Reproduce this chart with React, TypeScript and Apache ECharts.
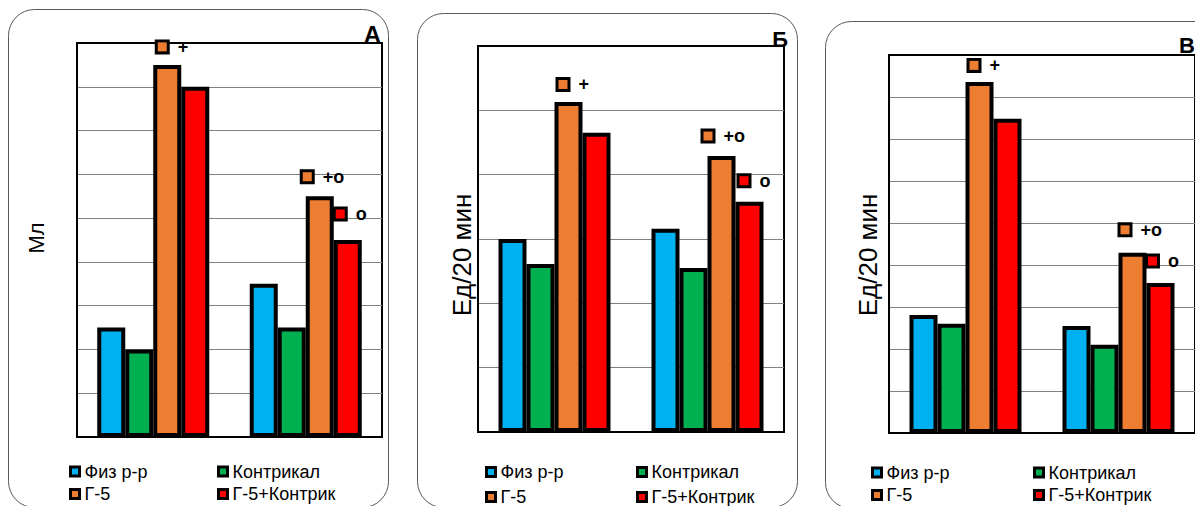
import React, { useEffect, useRef } from "react";
import * as echarts from "echarts";

// ---------- data ----------
const categories = ["Группа 1", "Группа 2"];
const seriesNames = ["Физ р-р", "Контрикал", "Г-5", "Г-5+Контрик"];
const seriesColors = ["#00B0F0", "#00B050", "#ED7D31", "#FF0000"];

// Panel А (Мл)
const panelAFiz = [2.5, 3.5];
const panelAKontr = [2.0, 2.5];
const panelAG5 = [8.5, 5.5];
const panelAG5K = [8.0, 4.5];
// Panel Б (Ед/20 мин)
const panelBFiz = [3.0, 3.16];
const panelBKontr = [2.61, 2.55];
const panelBG5 = [5.13, 4.29];
const panelBG5K = [4.65, 3.58];
// Panel В (Ед/20 мин)
const panelCFiz = [2.81, 2.55];
const panelCKontr = [2.6, 2.1];
const panelCG5 = [8.36, 4.29];
const panelCG5K = [7.48, 3.57];

const axisMax = [9, 6, 9];
const panelLetters = ["А", "Б", "В"];
const yAxisNames = ["Мл", "Ед/20 мин", "Ед/20 мин"];

// significance marks on the Г-5 and Г-5+Контрик bars
const marksG5 = [["+", "+о"], ["+", "+о"], ["+", "+о"]];
const marksG5K = [["", "о"], ["", "о"], ["", "о"]];

// ---------- layout / style ----------
const FONT = "'Liberation Sans', Arial, sans-serif";
const grids = [
  { left: 77, top: 43, width: 305, height: 394 },
  { left: 478, top: 46, width: 306, height: 386 },
  { left: 889, top: 55, width: 310, height: 378 },
];
const frames = [
  { x: 8.5, y: 9.5, width: 380, height: 498 },
  { x: 417.5, y: 13.5, width: 380, height: 494 },
  { x: 825.5, y: 21.5, width: 420, height: 487 },
];
const letterPos = [
  { x: 381, y: 34, size: 24 },
  { x: 788, y: 39.5, size: 22 },
  { x: 1195, y: 45.5, size: 22 },
];
const namePos = [
  { x: 36, y: 238, size: 22 },
  { x: 462, y: 255, size: 26 },
  { x: 868, y: 255, size: 26 },
];
const legendPos = [
  { c1: 68, c2: 216, top: 462.5, gap: 4.5 },
  { c1: 484, c2: 635, top: 463, gap: 7 },
  { c1: 870, c2: 1032, top: 463.5, gap: 4.5 },
];
// label offsets [dx, dy] from bar top-center to the key box's left/middle
const offsG5 = [
  [[-9.5, -18], [-17, -19.5]],
  [[-10, -17.5], [-18, -20]],
  [[-10, -16.5], [-12, -23]],
];
const offsG5K = [
  [[0, 0], [-12, -26]],
  [[0, 0], [-10, -21]],
  [[0, 0], [-12.5, -22]],
];

const panelData = [
  [panelAFiz, panelAKontr, panelAG5, panelAG5K],
  [panelBFiz, panelBKontr, panelBG5, panelBG5K],
  [panelCFiz, panelCKontr, panelCG5, panelCG5K],
];

function buildOption() {
  const grid: any[] = [];
  const xAxis: any[] = [];
  const yAxis: any[] = [];
  const series: any[] = [];
  const legend: any[] = [];
  const graphic: any[] = [];

  for (let p = 0; p < 3; p++) {
    grid.push({
      ...grids[p],
      show: true,
      borderColor: "#000",
      borderWidth: 2,
      backgroundColor: "transparent",
      containLabel: false,
    });
    xAxis.push({
      type: "category",
      gridIndex: p,
      data: categories,
      axisLabel: { show: false },
      axisTick: { show: false },
      axisLine: { show: true, lineStyle: { color: "#000", width: 2 } },
    });
    yAxis.push({
      type: "value",
      gridIndex: p,
      min: 0,
      max: axisMax[p],
      interval: 1,
      axisLabel: { show: false },
      axisTick: { show: false },
      axisLine: { show: true, lineStyle: { color: "#000", width: 2 } },
      splitLine: {
        show: true,
        showMinLine: false,
        showMaxLine: false,
        lineStyle: { color: "#808080", width: 1 },
      },
    });

    for (let s = 0; s < 4; s++) {
      const vals = panelData[p][s];
      const data = vals.map((v, i) => {
        let mark = "";
        let off = [0, 0];
        if (s === 2) {
          mark = marksG5[p][i];
          off = offsG5[p][i];
        } else if (s === 3) {
          mark = marksG5K[p][i];
          off = offsG5K[p][i];
        }
        if (!mark) return v;
        return {
          value: v,
          label: {
            show: true,
            position: "top",
            distance: 0,
            align: "left",
            verticalAlign: "middle",
            offset: off,
            formatter: `{sq| }{t|${mark}}`,
            rich: {
              sq: {
                width: 9,
                height: 9,
                backgroundColor: seriesColors[s],
                borderColor: "#000000",
                borderWidth: 3,
                verticalAlign: "middle",
              },
              t: {
                fontSize: 18,
                fontWeight: "bold",
                fontFamily: FONT,
                color: "#000",
                padding: [0, 0, 0, 11],
                verticalAlign: "middle",
              },
            },
          },
        };
      });
      series.push({
        type: "bar",
        name: seriesNames[s],
        xAxisIndex: p,
        yAxisIndex: p,
        data,
        barWidth: 28,
        barGap: "0%",
        itemStyle: {
          color: seriesColors[s],
          borderColor: "#000000",
          borderWidth: 4,
        },
        label: { show: false },
      });
    }

    const lp = legendPos[p];
    const legendCommon = {
      orient: "vertical",
      top: lp.top,
      padding: 0,
      itemGap: lp.gap,
      itemWidth: 9,
      itemHeight: 9,
      icon: "rect",
      itemStyle: { borderColor: "#000000", borderWidth: 3 },
      textStyle: {
        fontSize: 18,
        fontFamily: FONT,
        color: "#000",
        lineHeight: 18,
      },
      selectedMode: false,
    };
    legend.push({ ...legendCommon, left: lp.c1 + 1, data: [seriesNames[0], seriesNames[2]] });
    legend.push({ ...legendCommon, left: lp.c2 + 1, data: [seriesNames[1], seriesNames[3]] });

    graphic.push({
      type: "rect",
      shape: { ...frames[p], r: 26 },
      style: { fill: "none", stroke: "#595959", lineWidth: 1 },
      silent: true,
      z: -10,
    });
    graphic.push({
      type: "text",
      x: letterPos[p].x,
      y: letterPos[p].y,
      style: {
        text: panelLetters[p],
        fontSize: letterPos[p].size,
        fontWeight: "bold",
        fontFamily: FONT,
        fill: "#000",
        align: "right",
        verticalAlign: "middle",
      },
      z: 100,
    });
    graphic.push({
      type: "text",
      x: namePos[p].x,
      y: namePos[p].y,
      rotation: Math.PI / 2,
      style: {
        text: yAxisNames[p],
        fontSize: namePos[p].size,
        fontFamily: FONT,
        fill: "#000",
        align: "center",
        verticalAlign: "middle",
      },
      z: 100,
    });
  }

  return {
    animation: false,
    backgroundColor: "#fff",
    grid,
    xAxis,
    yAxis,
    series,
    legend,
    graphic,
  };
}

export default function App() {
  const ref = useRef<HTMLDivElement>(null);
  useEffect(() => {
    if (!ref.current) return;
    const chart = echarts.init(ref.current, undefined, { renderer: "svg" });
    chart.setOption(buildOption() as any);
    return () => chart.dispose();
  }, []);
  return (
    <div
      ref={ref}
      style={{ position: "fixed", left: 0, top: 0, width: 1195, height: 506 }}
    />
  );
}
